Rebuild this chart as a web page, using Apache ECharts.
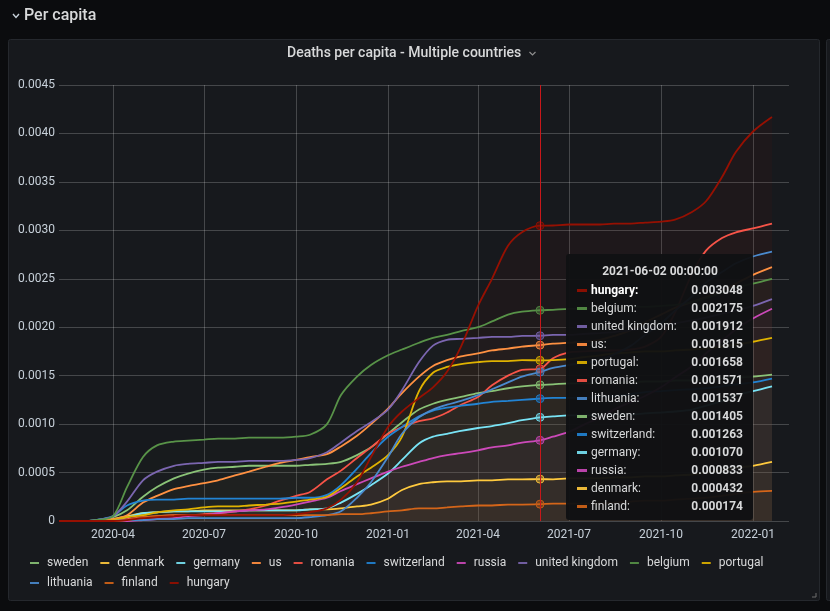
<!DOCTYPE html>
<html>
<head>
<meta charset="utf-8">
<title>Deaths per capita - Multiple countries</title>
<script src="https://cdn.jsdelivr.net/npm/echarts@6/dist/echarts.min.js"></script>
<style>
html, body { margin: 0; padding: 0; background: #0b0c0e; }
#main { width: 830px; height: 611px; }
</style>
</head>
<body>
<div id="main"></div>
<script>
// sample dates (roughly twice a month)
var dates = ['2020-02-07', '2020-03-01', '2020-03-15', '2020-04-01', '2020-04-15', '2020-05-01', '2020-05-15',
    '2020-06-01', '2020-06-15', '2020-07-01', '2020-07-15', '2020-08-01', '2020-08-15', '2020-09-01', '2020-09-15',
    '2020-10-01', '2020-10-15', '2020-11-01', '2020-11-15', '2020-12-01', '2020-12-15', '2021-01-01', '2021-01-15',
    '2021-02-01', '2021-02-15', '2021-03-01', '2021-03-15', '2021-04-01', '2021-04-15', '2021-05-01', '2021-05-15',
    '2021-06-02', '2021-06-15', '2021-07-01', '2021-07-15', '2021-08-01', '2021-08-15', '2021-09-01', '2021-09-15',
    '2021-10-01', '2021-10-15', '2021-11-01', '2021-11-15', '2021-12-01', '2021-12-15', '2022-01-01', '2022-01-20'];

var tickDates = ['2020-04-01', '2020-07-01', '2020-10-01', '2021-01-01', '2021-04-01', '2021-07-01', '2021-10-01', '2022-01-01'];

var sweden = [0, 0, 0.00001, 0.00004, 0.00011, 0.00025, 0.00035, 0.00044, 0.00049, 0.00053,
    0.00055, 0.00056, 0.00057, 0.00057, 0.00057, 0.00057, 0.00058, 0.00059, 0.00061, 0.00068,
    0.00076, 0.0009, 0.00102, 0.00115, 0.00121, 0.00125, 0.00128, 0.00132, 0.00134, 0.00137,
    0.00139, 0.001405, 0.00141, 0.00142, 0.00142, 0.00142, 0.00143, 0.00143, 0.00144, 0.00144,
    0.00145, 0.00145, 0.00146, 0.00147, 0.00148, 0.00149, 0.00151];
var denmark = [0, 0, 0, 0.00002, 0.00005, 0.00008, 0.00009, 0.0001, 0.0001, 0.00011,
    0.00011, 0.00011, 0.00011, 0.00011, 0.00011, 0.00011, 0.00012, 0.00012, 0.00013, 0.00015,
    0.00017, 0.00023, 0.00032, 0.00038, 0.0004, 0.00041, 0.00041, 0.00042, 0.00042, 0.00043,
    0.00043, 0.000432, 0.00043, 0.00044, 0.00044, 0.00044, 0.00045, 0.00045, 0.00046, 0.00046,
    0.00047, 0.00048, 0.0005, 0.00052, 0.00055, 0.00057, 0.00061];
var germany = [0, 0, 0, 0.00001, 0.00004, 0.00008, 0.00009, 0.0001, 0.0001, 0.0001,
    0.0001, 0.0001, 0.00011, 0.00011, 0.00011, 0.00011, 0.00012, 0.00013, 0.00019, 0.00028,
    0.00037, 0.00049, 0.00063, 0.0008, 0.00087, 0.0009, 0.00093, 0.00096, 0.00098, 0.00101,
    0.00104, 0.00107, 0.00108, 0.00109, 0.00109, 0.00109, 0.0011, 0.0011, 0.00111, 0.00112,
    0.00113, 0.00115, 0.00119, 0.00124, 0.0013, 0.00134, 0.00139];
var us = [0, 0, 0, 0.00002, 0.00006, 0.00019, 0.00026, 0.00033, 0.00036, 0.00039,
    0.00042, 0.00047, 0.00051, 0.00056, 0.0006, 0.00063, 0.00066, 0.00069, 0.00077, 0.00088,
    0.001, 0.00116, 0.00132, 0.00149, 0.0016, 0.00166, 0.0017, 0.00173, 0.00176, 0.00178,
    0.0018, 0.001815, 0.00183, 0.00184, 0.00185, 0.00187, 0.00191, 0.00197, 0.00205, 0.00213,
    0.0022, 0.00226, 0.00231, 0.00237, 0.00245, 0.00254, 0.00262];
var romania = [0, 0, 0, 0.00001, 0.00002, 0.00004, 0.00005, 0.00006, 0.00006, 0.00007,
    0.00008, 0.0001, 0.00012, 0.00016, 0.00021, 0.00026, 0.0003, 0.00043, 0.00052, 0.00065,
    0.00076, 0.0009, 0.00097, 0.00103, 0.00106, 0.00112, 0.0012, 0.00128, 0.0014, 0.0015,
    0.00156, 0.001571, 0.00168, 0.00174, 0.00175, 0.00176, 0.00176, 0.00177, 0.0018, 0.0019,
    0.00215, 0.00255, 0.00279, 0.00292, 0.00298, 0.00302, 0.00307];
var switzerland = [0, 0, 0.00001, 0.00005, 0.00016, 0.00021, 0.00022, 0.00022, 0.00023, 0.00023,
    0.00023, 0.00023, 0.00023, 0.00023, 0.00023, 0.00024, 0.00024, 0.00027, 0.00037, 0.00054,
    0.0007, 0.00087, 0.00097, 0.00108, 0.00114, 0.00117, 0.00119, 0.00121, 0.00123, 0.00124,
    0.00125, 0.001263, 0.00127, 0.00127, 0.00127, 0.00128, 0.00129, 0.00131, 0.00133, 0.00134,
    0.00135, 0.00136, 0.00137, 0.00139, 0.00141, 0.00143, 0.00147];
var russia = [0, 0, 0, 0, 0, 0.00001, 0.00002, 0.00003, 0.00005, 0.00006,
    0.00008, 0.0001, 0.00011, 0.00012, 0.00014, 0.00017, 0.0002, 0.00024, 0.00031, 0.00038,
    0.00044, 0.00051, 0.00056, 0.00061, 0.00065, 0.00068, 0.0007, 0.00073, 0.00076, 0.00078,
    0.00081, 0.000833, 0.00087, 0.00092, 0.00099, 0.00107, 0.00115, 0.00123, 0.00129, 0.00138,
    0.00148, 0.0016, 0.00173, 0.00186, 0.00198, 0.00209, 0.00219];
var unitedKingdom = [0, 0, 0.00001, 0.00005, 0.0002, 0.00042, 0.00051, 0.00057, 0.00059, 0.0006,
    0.00061, 0.00061, 0.00062, 0.00062, 0.00062, 0.00063, 0.00065, 0.00071, 0.00081, 0.00093,
    0.00102, 0.00115, 0.00135, 0.00164, 0.00181, 0.00187, 0.00188, 0.00189, 0.0019, 0.0019,
    0.00191, 0.001912, 0.00192, 0.00192, 0.00193, 0.00194, 0.00195, 0.00197, 0.00199, 0.00201,
    0.00204, 0.00207, 0.0021, 0.00214, 0.00217, 0.00222, 0.00229];
var belgium = [0, 0, 0.00001, 0.00005, 0.00035, 0.00066, 0.00078, 0.00082, 0.00083, 0.00084,
    0.00085, 0.00085, 0.00086, 0.00086, 0.00086, 0.00087, 0.00089, 0.001, 0.0013, 0.00149,
    0.00161, 0.00171, 0.00177, 0.00184, 0.00189, 0.00192, 0.00196, 0.002, 0.00206, 0.00213,
    0.00216, 0.002175, 0.00218, 0.00219, 0.00219, 0.0022, 0.0022, 0.00221, 0.00221, 0.00222,
    0.00223, 0.00226, 0.0023, 0.00236, 0.00241, 0.00245, 0.0025];
var portugal = [0, 0, 0, 0.00001, 0.00004, 0.00006, 0.00009, 0.00011, 0.00012, 0.00014,
    0.00015, 0.00015, 0.00016, 0.00017, 0.00018, 0.0002, 0.00022, 0.00025, 0.00034, 0.00046,
    0.00055, 0.00068, 0.00087, 0.00134, 0.00153, 0.00159, 0.00162, 0.00164, 0.00165, 0.00165,
    0.00166, 0.001658, 0.00166, 0.00167, 0.00169, 0.00171, 0.00173, 0.00174, 0.00175, 0.00175,
    0.00176, 0.00177, 0.00178, 0.0018, 0.00182, 0.00185, 0.00189];
var lithuania = [0, 0, 0, 0, 0.00001, 0.00001, 0.00002, 0.00002, 0.00003, 0.00003,
    0.00003, 0.00003, 0.00003, 0.00003, 0.00003, 0.00003, 0.00004, 0.00006, 0.0001, 0.00024,
    0.0004, 0.00066, 0.0009, 0.00107, 0.00115, 0.0012, 0.00124, 0.0013, 0.00136, 0.00143,
    0.00149, 0.001537, 0.00158, 0.00161, 0.00163, 0.00166, 0.00172, 0.00181, 0.00192, 0.00204,
    0.00217, 0.00232, 0.00246, 0.00257, 0.00266, 0.00273, 0.00278];
var finland = [0, 0, 0, 0, 0.00001, 0.00004, 0.00005, 0.00006, 0.00006, 0.00006,
    0.00006, 0.00006, 0.00006, 0.00006, 0.00006, 0.00006, 0.00006, 0.00006, 0.00007, 0.00007,
    0.00008, 0.0001, 0.00011, 0.00013, 0.00013, 0.00014, 0.00015, 0.00016, 0.00016, 0.00017,
    0.00017, 0.000174, 0.00018, 0.00018, 0.00018, 0.00018, 0.00019, 0.0002, 0.00021, 0.00021,
    0.00022, 0.00023, 0.00024, 0.00026, 0.00028, 0.0003, 0.00031];
var hungary = [0, 0, 0, 0, 0.00001, 0.00003, 0.00004, 0.00005, 0.00006, 0.00006,
    0.00006, 0.00006, 0.00006, 0.00006, 0.00006, 0.00007, 0.00009, 0.00013, 0.00022, 0.0004,
    0.00066, 0.00097, 0.00113, 0.00127, 0.00138, 0.00154, 0.0018, 0.00222, 0.0025, 0.00284,
    0.00298, 0.003048, 0.00305, 0.00306, 0.00306, 0.00306, 0.00307, 0.00307, 0.00308, 0.00309,
    0.00311, 0.00319, 0.0033, 0.00355, 0.00381, 0.00402, 0.00417];

var countries = ['sweden', 'denmark', 'germany', 'us', 'romania', 'switzerland', 'russia',
    'united kingdom', 'belgium', 'portugal', 'lithuania', 'finland', 'hungary'];
var values = [sweden, denmark, germany, us, romania, switzerland, russia,
    unitedKingdom, belgium, portugal, lithuania, finland, hungary];
var colors = ['#7EB26D', '#EAB839', '#6ED0E0', '#EF843C', '#E24D42', '#1F78C1', '#BA43A9',
    '#705DA0', '#508642', '#CCA300', '#447EBC', '#C15C17', '#890F02'];

var hoverDate = '2021-06-02';
var font = 'Roboto, "Helvetica Neue", Arial, sans-serif';

function rgba(hex, a) {
    var n = parseInt(hex.slice(1), 16);
    return 'rgba(' + (n >> 16) + ',' + ((n >> 8) & 255) + ',' + (n & 255) + ',' + a + ')';
}
function pad(n) { return n < 10 ? '0' + n : '' + n; }
function toTime(s) {
    var p = s.split('-');
    return new Date(+p[0], +p[1] - 1, +p[2]).getTime();
}
function fmtDay(t) {
    var d = new Date(t);
    return d.getFullYear() + '-' + pad(d.getMonth() + 1) + '-' + pad(d.getDate());
}

var series = [];
for (var i = 0; i < countries.length; i++) {
    var pts = [];
    for (var j = 0; j < dates.length; j++) {
        pts.push([toTime(dates[j]), values[i][j]]);
    }
    series.push({
        name: countries[i],
        type: 'line',
        data: pts,
        color: colors[i],
        showSymbol: false,
        symbol: 'circle',
        symbolSize: 8,
        smooth: 0.3,
        lineStyle: { color: colors[i], width: 1.8 },
        itemStyle: { color: rgba(colors[i], 0.45), borderColor: colors[i], borderWidth: 1 },
        areaStyle: { color: colors[i], opacity: countries[i] == 'hungary' ? 0.06 : 0.02 },
        emphasis: { scale: false, lineStyle: { width: 1.8 } }
    });
}

function legendItems(names) {
    return names.map(function (n) {
        return { name: n, itemStyle: { color: colors[countries.indexOf(n)], borderWidth: 0, opacity: 1 } };
    });
}
var legendBase = {
    left: 25,
    orient: 'horizontal',
    icon: 'rect',
    itemWidth: 9,
    itemHeight: 2,
    itemGap: 12,
    selectedMode: false,
    textStyle: { color: '#d8d9da', fontSize: 12, fontFamily: font, padding: [0, 0, 0, 3] }
};

var tickValues = tickDates.map(toTime);

var chart = echarts.init(document.getElementById('main'));
var option = {
    animation: false,
    backgroundColor: '#0b0c0e',
    textStyle: { fontFamily: font },
    graphic: [
        { type: 'rect', z: -10, silent: true, shape: { x: 8.5, y: 39.5, width: 811, height: 561, r: 2 },
          style: { fill: '#17191d', stroke: '#25282d', lineWidth: 1 } },
        { type: 'rect', z: -10, silent: true, shape: { x: 826.5, y: 39.5, width: 20, height: 561, r: 2 },
          style: { fill: '#17191d', stroke: '#25282d', lineWidth: 1 } },
        { type: 'polyline', silent: true, shape: { points: [[13, 14], [16, 17.5], [19, 14]] },
          style: { stroke: '#c7d0d9', lineWidth: 1.4, fill: null } },
        { type: 'text', silent: true, style: { text: 'Per capita', x: 24, y: 16, fill: '#d8d9da',
          font: '500 16px ' + font, verticalAlign: 'middle' } },
        { type: 'text', silent: true, style: { text: 'Deaths per capita - Multiple countries', x: 287, y: 53,
          fill: '#d8d9da', font: '500 14px ' + font, verticalAlign: 'middle' } },
        { type: 'polyline', silent: true, shape: { points: [[529.5, 52], [532.5, 55], [535.5, 52]] },
          style: { stroke: '#8e8e8e', lineWidth: 1.2, fill: null } },
        { type: 'polyline', silent: true, shape: { points: [[812, 597], [816, 597], [816, 593]] },
          style: { stroke: '#6e6e6e', lineWidth: 1, fill: null } }
    ],
    grid: { left: 59, right: 41, top: 85, bottom: 90 },
    xAxis: {
        type: 'value',
        min: toTime('2020-02-07'),
        max: toTime('2022-02-06'),
        axisLine: { show: false },
        axisTick: { show: false, customValues: tickValues },
        axisLabel: {
            customValues: tickValues,
            color: '#c7d0d9',
            fontSize: 12,
            margin: 8,
            formatter: function (v) {
                var d = new Date(v);
                return d.getFullYear() + '-' + pad(d.getMonth() + 1);
            }
        },
        splitLine: { show: true, lineStyle: { color: 'rgba(255,255,255,0.2)', width: 1 } }
    },
    yAxis: {
        type: 'value',
        min: 0,
        max: 0.0045,
        interval: 0.0005,
        axisLine: { show: false },
        axisTick: { show: false },
        axisLabel: {
            color: '#c7d0d9',
            fontSize: 12,
            margin: 4,
            formatter: function (v) { return v === 0 ? '0' : v.toFixed(4); }
        },
        splitLine: { lineStyle: { color: 'rgba(255,255,255,0.2)', width: 1 } }
    },
    legend: [
        Object.assign({}, legendBase, { top: 552, data: legendItems(countries.slice(0, 10)) }),
        Object.assign({}, legendBase, { top: 572, data: legendItems(countries.slice(10)) })
    ],
    tooltip: {
        trigger: 'axis',
        alwaysShowContent: true,
        transitionDuration: 0,
        backgroundColor: 'rgba(16,17,19,0.96)',
        borderWidth: 0,
        padding: [8, 10, 5, 11],
        extraCssText: 'box-shadow:none;border-radius:3px;width:166px;',
        textStyle: { color: '#d8d9da', fontSize: 12, fontFamily: font },
        position: function () { return [566, 254]; },
        axisPointer: {
            type: 'line',
            snap: true,
            label: { show: false },
            lineStyle: { color: '#c8171a', width: 1, type: 'solid' }
        },
        formatter: function (params) {
            var rows = params.slice().sort(function (a, b) { return b.value[1] - a.value[1]; });
            var html = '<div style="text-align:center;font-weight:bold;line-height:18px;margin-bottom:1px">' +
                fmtDay(params[0].value[0]) + ' 00:00:00</div>';
            rows.forEach(function (p, k) {
                var c = colors[countries.indexOf(p.seriesName)];
                html += '<div style="display:flex;align-items:center;height:18px;line-height:18px">' +
                    '<span style="display:inline-block;width:10px;height:3px;background:' + c + ';margin-right:4px"></span>' +
                    '<span style="flex:1;' + (k === 0 ? 'font-weight:bold;color:#fff' : '') + '">' + p.seriesName + ':</span>' +
                    '<span style="font-weight:bold">' + p.value[1].toFixed(6) + '</span></div>';
            });
            return html;
        }
    },
    series: series
};
chart.setOption(option);

// pin the hover state on 2021-06-02
var px = chart.convertToPixel({ xAxisIndex: 0 }, toTime(hoverDate));
chart.dispatchAction({ type: 'showTip', x: px, y: 300 });
</script>
</body>
</html>
